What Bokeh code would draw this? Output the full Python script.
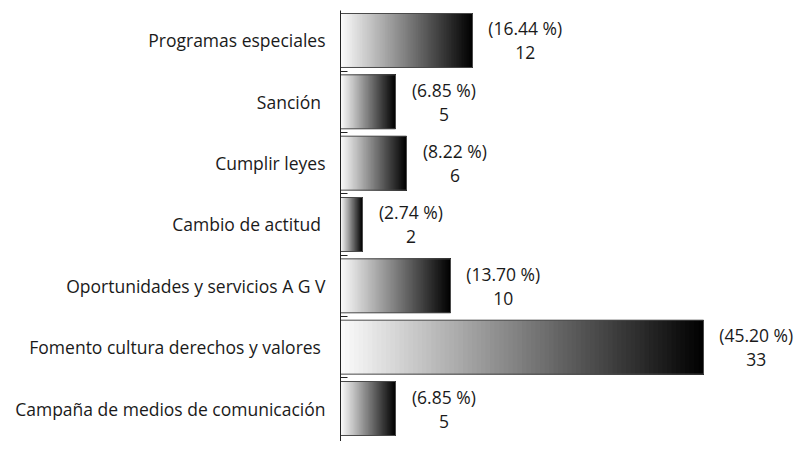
import numpy as np
from bokeh.plotting import figure
from bokeh.models import Range1d, FixedTicker, ColumnDataSource
from bokeh.core.properties import value
from bokeh.embed import file_html
from bokeh.resources import INLINE

categories = ["Programas especiales", "Sanción ", "Cumplir leyes", "Cambio de actitud ",
              "Oportunidades y servicios A G V", "Fomento cultura  derechos y valores",
              "Campaña de medios de comunicación"]
counts = [12, 5, 6, 2, 10, 33, 5]
percents = ["16.44", "6.85", "8.22", "2.74", "13.70", "45.20", "6.85"]

FONT = "Open Sans"
n = len(categories)
ypos = [n - 1 - i for i in range(n)]

p = figure(width=796, height=441, output_backend="svg", toolbar_location=None,
           x_range=Range1d(0, 456 / 11), y_range=Range1d(-0.538, 6.489),
           min_border_left=340, min_border_right=0, min_border_top=10, min_border_bottom=0)
p.xaxis.visible = False
p.grid.visible = False
p.outline_line_color = None
p.background_fill_color = "white"

# gradient bars: overlapping slices from white (left) to black (right)
N = 80
l, r, yy, cols = [], [], [], []
for c, y in zip(counts, ypos):
    edges = np.linspace(0, c, N + 1)
    for k in range(N):
        t = (k + 0.5) / N
        g = int(round(252 * (1 - t)))
        l.append(edges[k]); r.append(c); yy.append(y)
        cols.append("#%02x%02x%02x" % (g, g, g))
p.hbar(y=yy, left=l, right=r, height=0.88, fill_color=cols, line_color=None)
p.hbar(y=ypos, left=0, right=counts, height=0.88, fill_color=None,
       line_color="#4a4a4a", line_width=1)

# value labels
texts = ["(%s %%)\n%d" % (pc, c) for pc, c in zip(percents, counts)]
offs = [14 + len("(%s %%)" % pc) * 4.3 for pc in percents]
src = ColumnDataSource(dict(x=counts, y=ypos, t=texts, o=offs))
p.text(x="x", y="y", text="t", x_offset="o", y_offset=0, source=src,
       text_align="center", text_baseline="middle", text_font=value(FONT),
       text_font_size="17.5px", text_color="#1a1a1a", text_line_height=1.0)

ax = p.yaxis[0]
ax.ticker = FixedTicker(ticks=ypos, minor_ticks=[i + 0.5 for i in range(n - 1)])
ax.major_label_overrides = {y: c for y, c in zip(ypos, categories)}
ax.major_tick_out = 0
ax.major_tick_in = 0
ax.minor_tick_in = 7
ax.minor_tick_out = 0
ax.minor_tick_line_color = "#222222"
ax.axis_line_color = "#222222"
ax.axis_line_width = 1
ax.major_label_standoff = 15
ax.major_label_text_font = FONT
ax.major_label_text_font_size = "17.5px"
ax.major_label_text_color = "#1a1a1a"

open("out.html", "w").write(file_html(p, INLINE))
